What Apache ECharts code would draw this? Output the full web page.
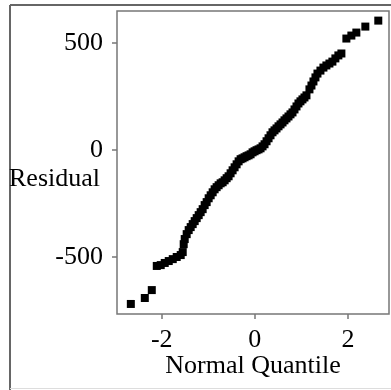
<!DOCTYPE html>
<html>
<head>
<meta charset="utf-8">
<script src="https://cdn.jsdelivr.net/npm/echarts@6/dist/echarts.min.js"></script>
<style>html,body{margin:0;padding:0;background:#fff;}#chart{width:391px;height:390px;}</style>
</head>
<body>
<div id="chart"></div>
<script>
const quantiles = [-2.663,-2.363,-2.213,-2.106,-2.021,-1.935,-1.849,-1.763,-1.678,-1.592,-1.549,-1.528,-1.506,-1.464,-1.421,-1.378,-1.335,-1.292,-1.249,-1.206,-1.164,-1.121,-1.078,-1.035,-0.992,-0.949,-0.906,-0.864,-0.821,-0.778,-0.735,-0.692,-0.649,-0.606,-0.564,-0.521,-0.478,-0.435,-0.392,-0.349,-0.306,-0.264,-0.221,-0.178,-0.135,-0.092,-0.049,-0.006,0.036,0.079,0.122,0.165,0.208,0.251,0.294,0.336,0.379,0.422,0.465,0.508,0.551,0.594,0.636,0.679,0.722,0.765,0.808,0.851,0.894,0.936,0.979,1.022,1.065,1.108,1.172,1.215,1.258,1.301,1.344,1.408,1.472,1.536,1.601,1.665,1.729,1.793,1.858,1.965,2.072,2.179,2.372,2.650];
const residuals = [-721,-693,-656,-543,-539,-529,-520,-511,-501,-492,-478,-441,-417,-394,-375,-361,-347,-333,-319,-305,-291,-277,-258,-244,-226,-212,-198,-184,-174,-165,-156,-151,-142,-132,-123,-109,-95,-81,-67,-53,-43,-39,-34,-29,-25,-20,-11,-6,-1,3,8,17,27,41,55,69,83,92,101,111,120,129,139,148,157,167,176,190,204,218,228,237,246,256,284,302,321,340,358,372,386,396,405,414,429,443,452,522,536,550,578,606];
const xTicks = [-2, 0, 2];
const yTicks = [-500, 0, 500];

const points = quantiles.map((q, i) => [q, residuals[i]]);
const font = 'Liberation Serif';
const chart = echarts.init(document.getElementById('chart'), null, {renderer: 'canvas'});
chart.setOption({
  animation: false,
  backgroundColor: '#fff',
  grid: {left: 117, top: 11, right: 2, bottom: 76, containLabel: false, outerBoundsMode: 'none',
         show: true, borderColor: '#777', borderWidth: 1.5, backgroundColor: 'transparent'},
  xAxis: {
    type: 'value', min: -2.96, max: 2.88,
    name: 'Normal Quantile', nameLocation: 'middle', nameGap: 39, nameMoveOverlap: false,
    nameTextStyle: {fontFamily: font, fontSize: 26, color: '#000'},
    axisLine: {show: false, onZero: false},
    axisTick: {show: true, length: 5, lineStyle: {color: '#777', width: 1.5}, customValues: xTicks},
    axisLabel: {fontFamily: font, fontSize: 26, color: '#000', margin: 13, customValues: xTicks},
    splitLine: {show: false}
  },
  yAxis: {
    type: 'value', min: -768, max: 651,
    name: 'Residual', nameLocation: 'middle', nameRotate: 0, nameGap: 17, nameMoveOverlap: false,
    nameTextStyle: {fontFamily: font, fontSize: 26, color: '#000', verticalAlign: 'top', lineHeight: 34},
    axisLine: {show: false, onZero: false},
    axisTick: {show: true, length: 5, lineStyle: {color: '#777', width: 1.5}, customValues: yTicks},
    axisLabel: {fontFamily: font, fontSize: 26, color: '#000', margin: 14, customValues: yTicks},
    splitLine: {show: false}
  },
  graphic: [
    {type: 'line', shape: {x1: 10, y1: 5, x2: 10, y2: 390}, style: {stroke: '#666', lineWidth: 2}},
    {type: 'line', shape: {x1: 10, y1: 5, x2: 391, y2: 5}, style: {stroke: '#666', lineWidth: 2}},
    {type: 'line', shape: {x1: 10, y1: 388.5, x2: 391, y2: 388.5}, style: {stroke: '#ddd', lineWidth: 1}}
  ],
  series: [{
    type: 'scatter',
    data: points,
    symbol: 'rect',
    symbolSize: 8,
    itemStyle: {color: '#000', opacity: 1}
  }]
});
</script>
</body>
</html>
